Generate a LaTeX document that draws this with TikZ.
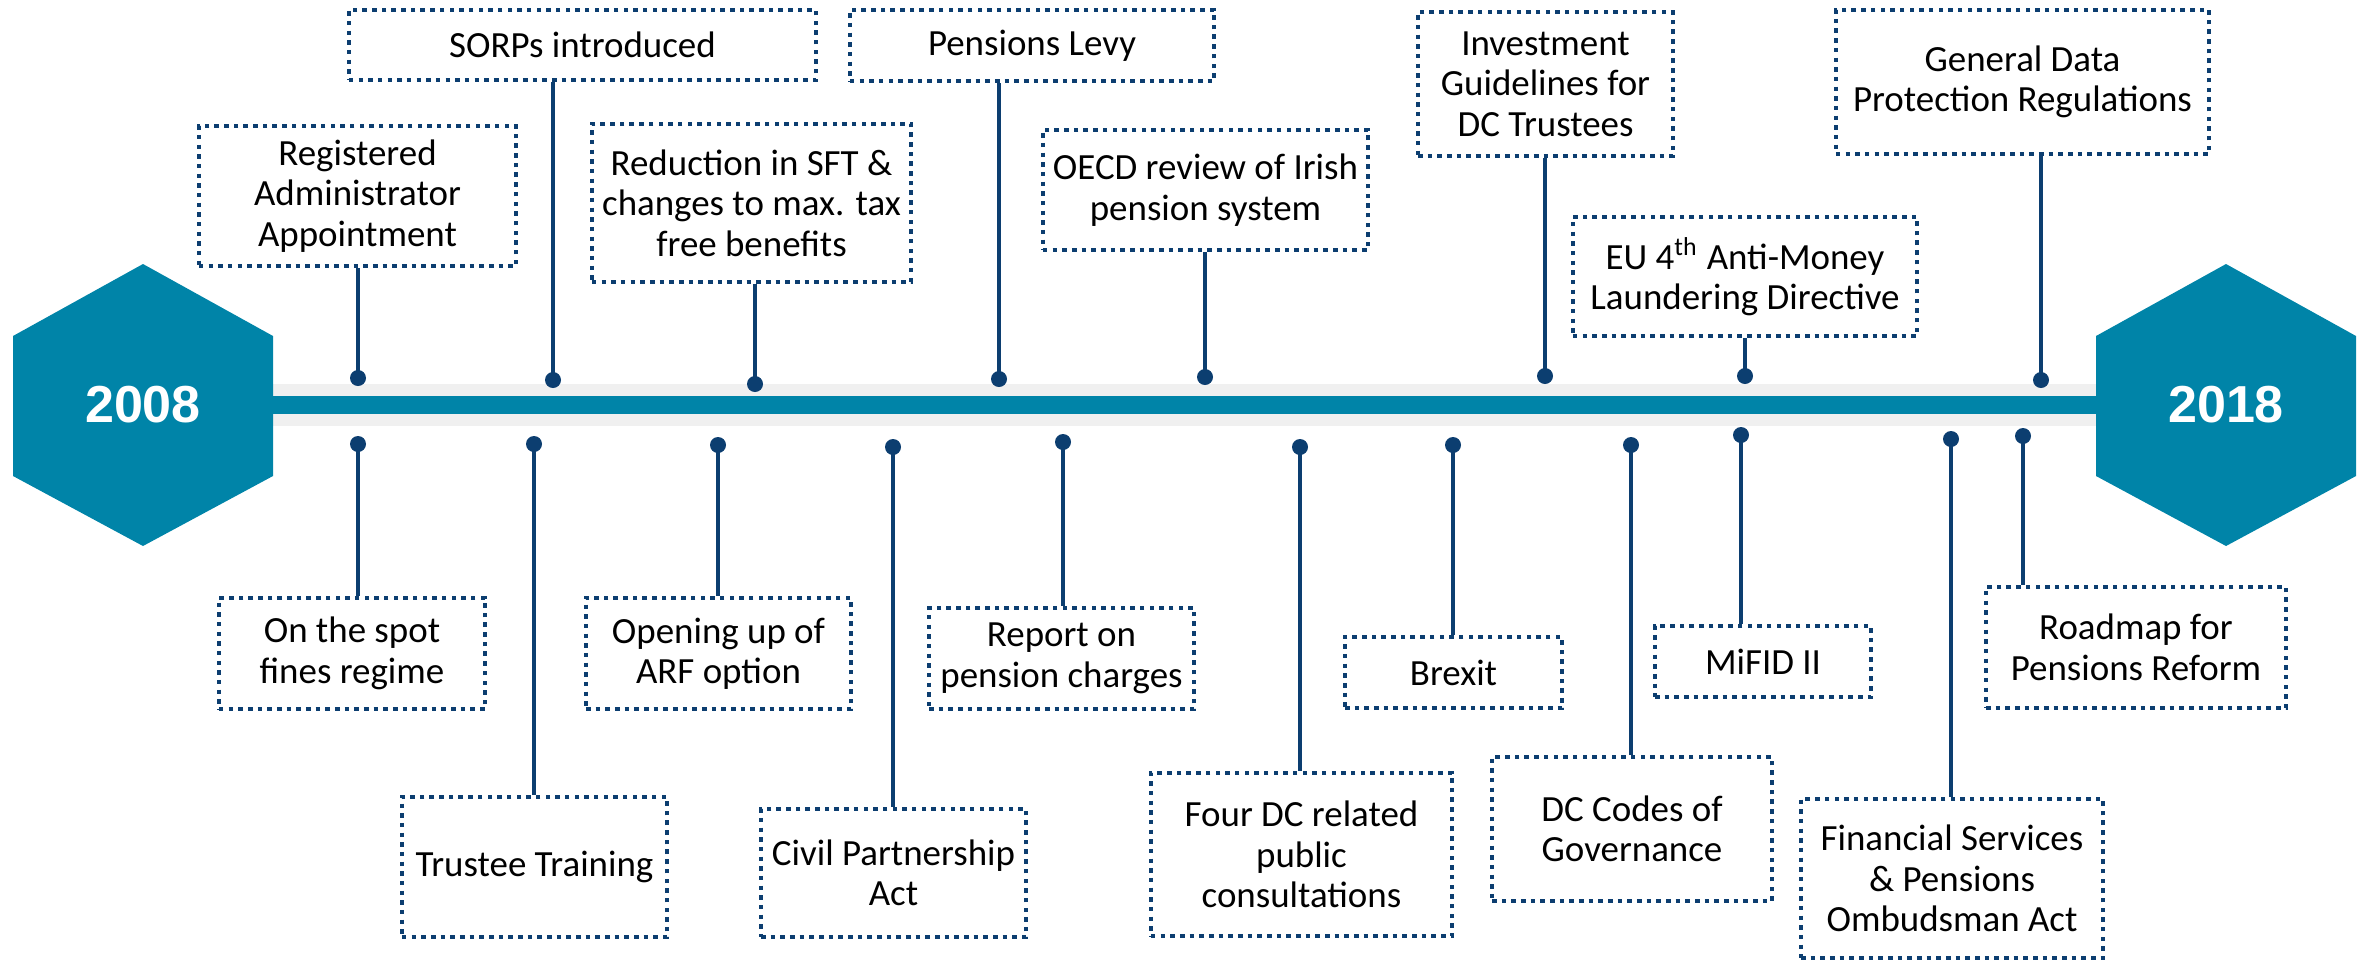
\documentclass[tikz,border=0pt]{standalone}
\usepackage{fontspec}
\setmainfont{Carlito}
\newfontfamily\yearfont{Liberation Sans}
\definecolor{barteal}{RGB}{0,132,168}
\definecolor{navy}{RGB}{12,62,112}
\definecolor{bandgray}{RGB}{240,240,240}
\tikzset{
  evbox/.style={draw=navy, line width=1.3pt, dash pattern=on 1.3pt off 1.45pt,
    align=center, inner sep=0pt, font=\fontsize{10.5}{11.5}\selectfont},
  conn/.style={draw=navy, line width=1.15pt},
  yearlbl/.style={text=white, font=\yearfont\bfseries\fontsize{14.8}{16}\selectfont},
}
\begin{document}
\begin{tikzpicture}[x=0.01cm, y=-0.01cm]
\useasboundingbox (0,0) rectangle (2366,963);
% timeline bar
\fill[bandgray] (273,384) rectangle (2096,426);
\fill[barteal] (273,396) rectangle (2096,414);
% year hexagons
\fill[barteal] (143,264) -- (273,336) -- (273,476) -- (143,546) -- (13,476) -- (13,336) -- cycle;
\fill[barteal] (2226,264) -- (2356,336) -- (2356,476) -- (2226,546) -- (2096,476) -- (2096,336) -- cycle;
\node[yearlbl] (y2008) at (143,405) {2008};
\node[yearlbl] (y2018) at (2226,405) {2018};

% events above the line
\node[evbox, minimum width=3.17cm, minimum height=1.40cm] (reg) at (357.5,196) {Registered\\Administrator\\Appointment};
\node[evbox, minimum width=4.67cm, minimum height=0.70cm] (sorps) at (582.5,45) {SORPs introduced};
\node[evbox, minimum width=3.19cm, minimum height=1.58cm] (sft) at (751.5,203) {Reduction in SFT \&\\changes to max. tax\\free benefits};
\node[evbox, minimum width=3.64cm, minimum height=0.71cm] (levy) at (1032,45.5) {Pensions Levy};
\node[evbox, minimum width=3.25cm, minimum height=1.20cm] (oecd) at (1205.5,190) {OECD review of Irish\\pension system};
\node[evbox, minimum width=2.55cm, minimum height=1.44cm] (invest) at (1545.5,84) {Investment\\Guidelines for\\DC Trustees};
\node[evbox, minimum width=3.44cm, minimum height=1.19cm] (amld) at (1745,276.5) {EU 4\textsuperscript{th} Anti-Money\\Laundering Directive};
\node[evbox, minimum width=3.73cm, minimum height=1.44cm] (gdpr) at (2022.5,82) {General Data\\Protection Regulations};

% events below the line
\node[evbox, minimum width=2.66cm, minimum height=1.11cm] (spot) at (352,653.5) {On the spot\\fines regime};
\node[evbox, minimum width=2.65cm, minimum height=1.40cm] (trust) at (534.5,867) {Trustee Training};
\node[evbox, minimum width=2.65cm, minimum height=1.11cm] (arf) at (718.5,653.5) {Opening up of\\ARF option};
\node[evbox, minimum width=2.65cm, minimum height=1.28cm] (civil) at (893.5,873) {Civil Partnership\\Act};
\node[evbox, minimum width=2.65cm, minimum height=1.01cm] (charges) at (1061.5,658.5) {Report on\\pension charges};
\node[evbox, minimum width=3.01cm, minimum height=1.63cm] (consult) at (1301.5,854.5) {Four DC related\\public\\consultations};
\node[evbox, minimum width=2.17cm, minimum height=0.71cm] (brexit) at (1453.5,672.5) {Brexit};
\node[evbox, minimum width=2.80cm, minimum height=1.44cm] (codes) at (1632,829) {DC Codes of\\Governance};
\node[evbox, minimum width=2.16cm, minimum height=0.71cm] (mifid) at (1763,661.5) {MiFID II};
\node[evbox, minimum width=3.02cm, minimum height=1.59cm] (fspo) at (1952,878.5) {Financial Services\\\& Pensions\\Ombudsman Act};
\node[evbox, minimum width=3.00cm, minimum height=1.21cm] (roadmap) at (2136,647.5) {Roadmap for\\Pensions Reform};

% dots on the line
\foreach \n/\xx/\yy in {reg/358/378, sorps/553/380, sft/755/384, levy/999/379,
    oecd/1205/377, invest/1545/376, amld/1745/376, gdpr/2041/380,
    spot/358/444, trust/534/444, arf/718/445, civil/893/447, charges/1063/442,
    consult/1300/447, brexit/1453/445, codes/1631/445, mifid/1741/435,
    fspo/1951/439, roadmap/2023/436}
  \coordinate (d\n) at (\xx,\yy);
% connectors
\foreach \n in {reg,sorps,sft,levy,oecd,invest,amld,gdpr} {
  \draw[conn] (d\n) -- (d\n |- \n.south);
  \fill[navy] (d\n) circle (8);
}
\foreach \n in {spot,trust,arf,civil,charges,consult,brexit,codes,mifid,fspo,roadmap} {
  \draw[conn] (d\n) -- (d\n |- \n.north);
  \fill[navy] (d\n) circle (8);
}
\end{tikzpicture}
\end{document}
